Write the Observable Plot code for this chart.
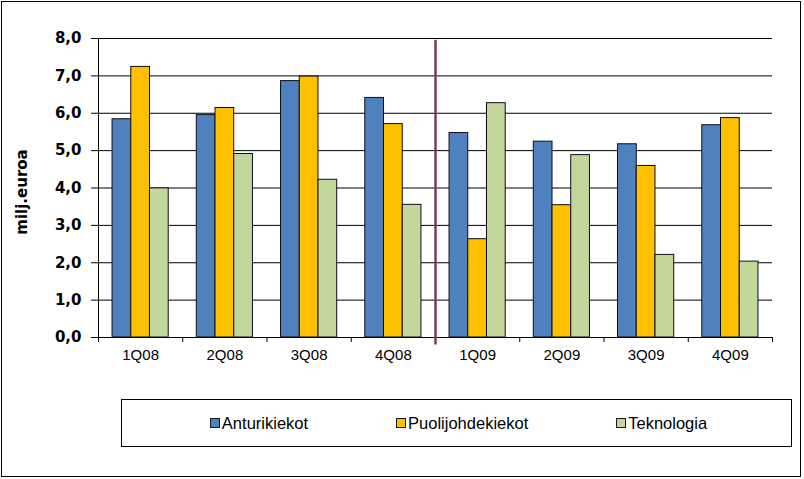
<!DOCTYPE html>
<html>
<head>
<meta charset="utf-8">
<script src="https://cdn.jsdelivr.net/npm/d3@7"></script>
<script src="https://cdn.jsdelivr.net/npm/@observablehq/plot@0.6"></script>
<style>
  body { margin: 0; background: #fff; }
  #wrap { position: relative; width: 804px; height: 479px; overflow: hidden; background: #fff; font-family: "Liberation Sans", Arial, sans-serif; }
  #wrap svg { position: absolute; left: 0; top: 0; }
  #border { position: absolute; left: 1px; top: 1px; width: 800px; height: 476px; border: 1.5px solid #000; box-sizing: border-box; pointer-events: none; }
  #legend { position: absolute; left: 121px; top: 399px; width: 671px; height: 48px; border: 1px solid #000; box-sizing: border-box; display: flex; justify-content: center; align-items: center; gap: 88px; font-size: 16.5px; color: #000; padding-left: 4px; }
  .item { display: flex; align-items: center; }
  .sw { width: 8px; height: 8px; border: 1px solid #1a1a1a; margin-right: 2px; }
</style>
</head>
<body>
<div id="wrap">
  <div id="chart"></div>
  <div id="legend"></div>
  <div id="border"></div>
</div>
<script>
const quarters = ["1Q08", "2Q08", "3Q08", "4Q08", "1Q09", "2Q09", "3Q09", "4Q09"];
const seriesNames = ["Anturikiekot", "Puolijohdekiekot", "Teknologia"];
const anturikiekot = [5.84, 5.95, 6.86, 6.41, 5.47, 5.24, 5.17, 5.68];
const puolijohdekiekot = [7.24, 6.14, 6.98, 5.71, 2.63, 3.54, 4.59, 5.87];
const teknologia = [3.99, 4.91, 4.22, 3.55, 6.27, 4.88, 2.21, 2.03];
const colors = ["#4F81BD", "#FFC000", "#C3D69B"];
const yTicks = [0, 1, 2, 3, 4, 5, 6, 7, 8];
const yLabel = "milj.euroa";
const dividerBefore = "1Q09";

const seriesValues = [anturikiekot, puolijohdekiekot, teknologia];
const rows = [];
quarters.forEach((q, i) => {
  seriesNames.forEach((s, j) => {
    rows.push({quarter: q, qi: i, series: s, sj: j, value: seriesValues[j][i]});
  });
});

// within each quarter slot: outer gaps of 0.75 bar width each side, 3 touching bars
const slotUnits = seriesNames.length + 1.5;
const barX1 = d => d.qi + (0.75 + d.sj) / slotUnits;
const barX2 = d => d.qi + (1.75 + d.sj) / slotUnits;

const boundaries = d3.range(quarters.length + 1);
const dividerX = quarters.indexOf(dividerBefore);
const boldFont = "'DejaVu Sans', Verdana, sans-serif";
const plainFont = "'Liberation Sans', Arial, sans-serif";

const chart = Plot.plot({
  width: 804,
  height: 390,
  marginLeft: 98,
  marginRight: 32,
  marginTop: 38,
  marginBottom: 53,
  style: {fontFamily: plainFont, background: "transparent"},
  x: {domain: [0, quarters.length], axis: null},
  y: {domain: [0, 8], axis: null},
  color: {domain: seriesNames, range: colors},
  marks: [
    Plot.gridY(yTicks, {stroke: "#000", strokeOpacity: 1, strokeWidth: 1}),
    Plot.rectY(rows, {x1: barX1, x2: barX2, y: "value", fill: "series", stroke: "#0d0d1a", strokeWidth: 1}),
    Plot.ruleY([0], {stroke: "#000", strokeWidth: 1}),
    Plot.ruleX([0], {stroke: "#000", strokeWidth: 1}),
    Plot.axisY({ticks: yTicks, tickSize: 7, tickFormat: () => "", label: null}),
    Plot.axisX({ticks: boundaries, tickSize: 5, tickFormat: () => "", label: null}),
    Plot.text(yTicks, {x: 0, y: d => d, dx: -17, text: d => d.toFixed(1).replace(".", ","), textAnchor: "end", fontSize: 15, fontWeight: "bold", fontFamily: boldFont}),
    Plot.text(quarters, {x: (d, i) => i + 0.5, y: 0, dy: 18, text: d => d, fontSize: 15, fontFamily: plainFont}),
    Plot.ruleX([dividerX], {y1: -0.2, y2: 7.95, stroke: "#7E3B4A", strokeWidth: 2.5}),
    Plot.text([yLabel], {frameAnchor: "left", dx: -76, dy: 4, rotate: -90, textAnchor: "middle", text: d => d, fontSize: 15, fontWeight: "bold", fontFamily: boldFont})
  ]
});
document.getElementById("chart").appendChild(chart);

const legend = document.getElementById("legend");
seriesNames.forEach((s, j) => {
  const item = document.createElement("div");
  item.className = "item";
  const sw = document.createElement("div");
  sw.className = "sw";
  sw.style.background = colors[j];
  const lab = document.createElement("span");
  lab.textContent = s;
  item.appendChild(sw);
  item.appendChild(lab);
  legend.appendChild(item);
});
</script>
</body>
</html>
